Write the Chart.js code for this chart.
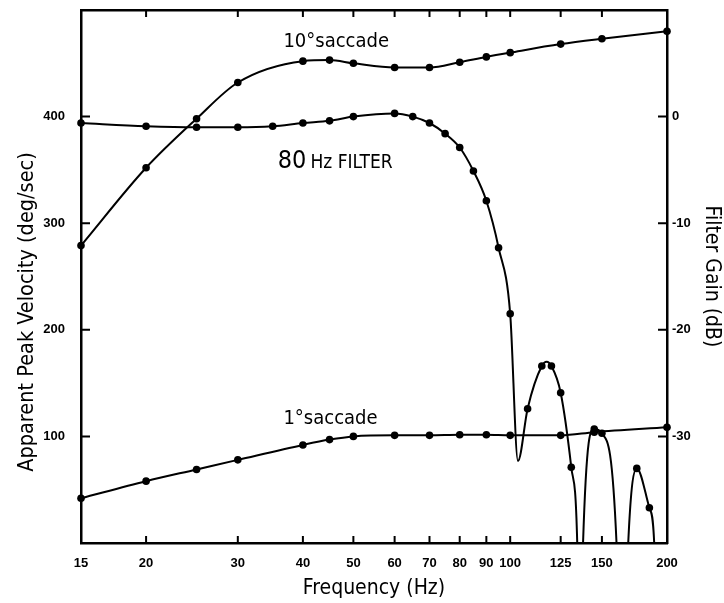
<!DOCTYPE html>
<html>
<head>
<meta charset="utf-8">
<script src="https://cdn.jsdelivr.net/npm/chart.js@4.4.1/dist/chart.umd.min.js"></script>
<style>
  html, body { margin: 0; padding: 0; background: #fff; }
  #wrap { width: 724px; height: 603px; }
</style>
</head>
<body>
<div id="wrap"><canvas id="myChart"></canvas></div>
<script>
const freqTicks = [15, 20, 30, 40, 50, 60, 70, 80, 90, 100, 125, 150, 200];
const velocityTicks = [100, 200, 300, 400];
const gainTicks = [-30, -20, -10, 0];

const saccade10Hz = [15, 20, 25, 30, 40, 45, 50, 60, 70, 80, 90, 100, 125, 150, 200];
const saccade10Vel = [279, 352, 398, 432, 452, 453, 450, 446, 446, 451, 456, 460, 468, 473, 480];

const saccade1Hz = [15, 20, 25, 30, 40, 45, 50, 60, 70, 80, 90, 100, 125, 145, 200];
const saccade1Vel = [42, 58, 69, 78, 92, 97, 100, 101, 101, 101.5, 101.5, 101, 101, 104, 108.5];

const filterDotHz = [15, 20, 25, 30, 35, 40, 45, 50, 60, 65, 70, 75, 80, 85, 90, 95, 100, 108, 115, 120, 125, 131, 145, 150, 175, 185];
const filterDotDb = [-0.6, -0.9, -1.0, -1.0, -0.9, -0.6, -0.4, 0, 0.3, 0, -0.6, -1.6, -2.9, -5.1, -7.9, -12.3, -18.5, -27.4, -23.4, -23.4, -25.9, -32.9, -29.3, -29.7, -33.0, -36.7];

// fitted filter curve; the nulls run off the bottom of the plot
const filterCurveHz = [15, 20, 25, 30, 35, 40, 45, 50, 60, 65, 70, 75, 80, 85, 90, 95, 100, 103.5, 108, 115, 117.5, 120, 125, 131, 134.5, 136.3, 138, 145, 150, 160, 164, 168.5, 175, 185, 189, 192];
const filterCurveDb = [-0.6, -0.9, -1.0, -1.0, -0.9, -0.6, -0.4, 0, 0.3, 0, -0.6, -1.6, -2.9, -5.1, -7.9, -12.3, -18.5, -32.3, -27.4, -23.4, -23.0, -23.4, -25.9, -32.9, -40, -60, -40, -29.3, -29.7, -40, -60, -40, -33.0, -36.7, -40, -60];

const pts = (xs, ys) => xs.map((x, i) => ({ x: x, y: ys[i] }));

const COND = '"DejaVu Sans Condensed", "Liberation Sans Narrow", Roboto, sans-serif';
const tickFont = { family: 'Liberation Sans', size: 13, weight: 'bold' };
const titleFont = { family: COND, size: 21 };

// fixed box sizes, and no extra padding from the tick labels
const fixBox = (w, h) => s => {
  if (w !== null) s.width = w;
  if (h !== null) s.height = h;
  s.paddingTop = 0; s.paddingBottom = 0; s.paddingLeft = 0; s.paddingRight = 0;
};

// tick marks point into the plot, as on the original
const innerTicks = {
  id: 'innerTicks',
  afterDraw(chart) {
    const c = chart.ctx;
    const a = chart.chartArea;
    const sx = chart.scales.x, sy = chart.scales.y, sy2 = chart.scales.y2;
    c.save();
    c.strokeStyle = '#000';
    c.lineWidth = 2;
    c.beginPath();
    freqTicks.forEach(v => {
      const px = sx.getPixelForValue(v);
      c.moveTo(px, a.bottom); c.lineTo(px, a.bottom - 7);
      c.moveTo(px, a.top); c.lineTo(px, a.top + 7);
    });
    velocityTicks.forEach(v => {
      const py = sy.getPixelForValue(v);
      c.moveTo(a.left, py); c.lineTo(a.left + 9, py);
    });
    gainTicks.forEach(v => {
      const py = sy2.getPixelForValue(v);
      c.moveTo(a.right, py); c.lineTo(a.right - 9, py);
    });
    c.stroke();
    c.restore();
  }
};

const annotations = {
  id: 'annotations',
  afterDraw(chart) {
    const { ctx, scales } = chart;
    const x = scales.x, y = scales.y, y2 = scales.y2;
    ctx.save();
    ctx.fillStyle = '#000';
    ctx.textBaseline = 'alphabetic';
    ctx.textAlign = 'left';

    ctx.font = '20px ' + COND;
    ctx.fillText('10°saccade', x.getPixelForValue(36.7), y.getPixelForValue(465));
    ctx.fillText('1°saccade', x.getPixelForValue(36.7), y.getPixelForValue(112));

    let px = x.getPixelForValue(35.8);
    const py = y2.getPixelForValue(-4.8);
    ctx.font = '25px ' + COND;
    ctx.fillText('80', px, py);
    px += ctx.measureText('80').width + 4;
    ctx.font = '19px ' + COND;
    ctx.fillText('Hz FILTER', px, py);

    // left axis title sits a little below centre in the original
    ctx.translate(27, 312);
    ctx.rotate(-Math.PI / 2);
    ctx.textAlign = 'center';
    ctx.textBaseline = 'middle';
    ctx.font = '21.5px ' + COND;
    ctx.fillText('Apparent Peak Velocity (deg/sec)', 0, 0);
    ctx.restore();
  }
};

const ctx = document.getElementById('myChart').getContext('2d');
const myChart = new Chart(ctx, {
  type: 'line',
  data: {
    datasets: [{
      label: '10° saccade',
      data: pts(saccade10Hz, saccade10Vel),
      yAxisID: 'y',
      borderColor: '#000',
      borderWidth: 2,
      pointRadius: 3.8,
      pointBackgroundColor: '#000',
      pointBorderWidth: 0,
      cubicInterpolationMode: 'monotone',
      clip: false
    }, {
      label: '1° saccade',
      data: pts(saccade1Hz, saccade1Vel),
      yAxisID: 'y',
      borderColor: '#000',
      borderWidth: 2,
      pointRadius: 3.8,
      pointBackgroundColor: '#000',
      pointBorderWidth: 0,
      cubicInterpolationMode: 'monotone',
      clip: false
    }, {
      label: '80 Hz filter',
      data: pts(filterCurveHz, filterCurveDb),
      yAxisID: 'y2',
      borderColor: '#000',
      borderWidth: 2,
      pointRadius: 0,
      cubicInterpolationMode: 'monotone'
    }, {
      label: '80 Hz filter points',
      data: pts(filterDotHz, filterDotDb),
      yAxisID: 'y2',
      showLine: false,
      pointRadius: 3.8,
      pointBackgroundColor: '#000',
      pointBorderWidth: 0,
      clip: false
    }]
  },
  options: {
    responsive: true,
    maintainAspectRatio: false,
    animation: false,
    layout: { padding: 0 },
    plugins: { legend: { display: false }, tooltip: { enabled: false } },
    scales: {
      x: {
        type: 'logarithmic',
        position: 'bottom',
        min: 15,
        max: 200,
        afterBuildTicks: s => { s.ticks = freqTicks.map(v => ({ value: v })); },
        afterFit: fixBox(null, 60),
        ticks: { callback: v => String(v), autoSkip: false, maxRotation: 0, padding: 13, color: '#000', font: tickFont },
        grid: { display: false, drawTicks: false },
        border: { display: true, color: '#000', width: 2.5 },
        title: { display: true, text: 'Frequency (Hz)', color: '#000', font: titleFont, padding: { top: 0, bottom: 2 } }
      },
      x2: {
        type: 'logarithmic',
        position: 'top',
        min: 15,
        max: 200,
        afterFit: fixBox(null, 10),
        ticks: { display: false },
        grid: { display: false, drawTicks: false },
        border: { display: true, color: '#000', width: 2.5 }
      },
      y: {
        type: 'linear',
        position: 'left',
        min: 0,
        max: 500,
        afterBuildTicks: s => { s.ticks = velocityTicks.map(v => ({ value: v })); },
        afterFit: fixBox(81, null),
        ticks: { padding: 16, color: '#000', font: tickFont },
        grid: { display: false, drawTicks: false },
        border: { display: true, color: '#000', width: 2.5 }
      },
      y2: {
        type: 'linear',
        position: 'right',
        min: -40,
        max: 10,
        afterBuildTicks: s => { s.ticks = gainTicks.map(v => ({ value: v })); },
        afterFit: fixBox(57, null),
        ticks: { padding: 5, color: '#000', font: tickFont },
        grid: { display: false, drawTicks: false },
        border: { display: true, color: '#000', width: 2.5 },
        title: { display: true, text: 'Filter Gain (dB)', color: '#000', font: titleFont, padding: 0 }
      }
    }
  },
  plugins: [innerTicks, annotations]
});
</script>
</body>
</html>
